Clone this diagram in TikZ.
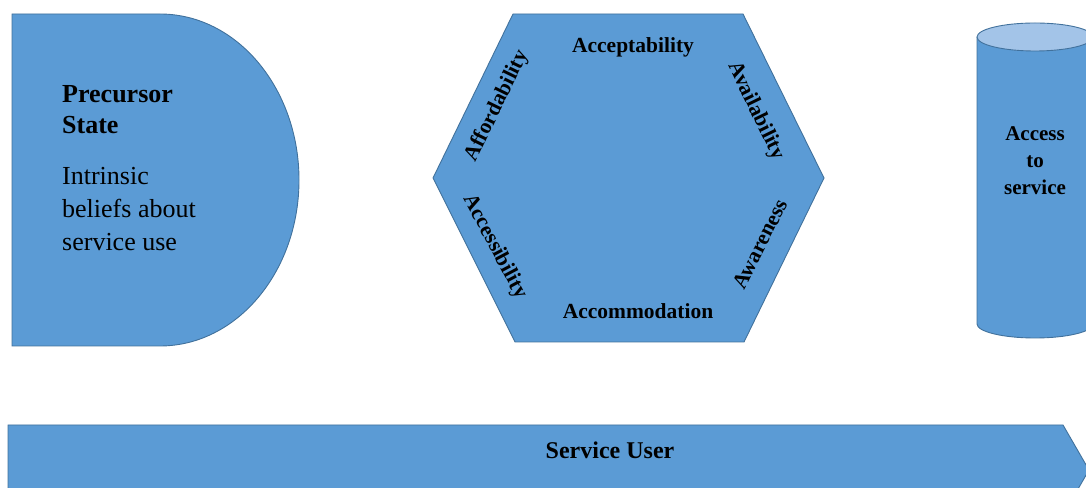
\documentclass[tikz,border=0pt]{standalone}
\usepackage{fontspec}
\setmainfont{Liberation Serif}
\begin{document}
\begin{tikzpicture}[x=1pt,y=1pt,
  shapefill/.style={fill=blueA,draw=blueB,line width=0.9pt},
  lbl/.style={font=\fontsize{21.5}{25}\selectfont\bfseries,inner sep=0pt},
]
\definecolor{blueA}{HTML}{5B9BD5}
\definecolor{blueB}{HTML}{41719C}
\definecolor{blueC}{HTML}{A3C4E8}
\useasboundingbox (0,0) rectangle (1086,487);
\clip (0,0) rectangle (1086,487);

% precursor state: half-rounded block
\draw[shapefill] (12,473) -- (160,473)
  arc[start angle=90,end angle=-90,x radius=139,y radius=166]
  -- (12,141) -- cycle;
\node[anchor=north west,inner sep=0pt,align=left,
      font=\fontsize{26}{31}\selectfont\bfseries] (pre) at (62,402)
  {Precursor\\State};
\node[anchor=north west,inner sep=0pt,align=left,
      font=\fontsize{26}{33}\selectfont] (belief) at (62,320)
  {Intrinsic\\beliefs about\\service use};

% the six dimensions of access
\coordinate (h1) at (513,473);
\coordinate (h2) at (743,473);
\coordinate (h3) at (824,309);
\coordinate (h4) at (744,145);
\coordinate (h5) at (515,145);
\coordinate (h6) at (433,309);
\draw[shapefill] (h1) -- (h2) -- (h3) -- (h4) -- (h5) -- (h6) -- cycle;
\node[lbl] (acc) at (633,440) {Acceptability};
\node[lbl] (avl) at (756,376) [rotate=-64] {Availability};
\node[lbl] (awr) at (760,243) [rotate=63] {Awareness};
\node[lbl] (acm) at (638,176) {Accommodation};
\node[lbl] (acs) at (495,240) [rotate=-62] {Accessibility};
\node[lbl] (aff) at (497,381) [rotate=64] {Affordability};

% access to service: cylinder
\draw[shapefill] (977,450) -- (977,163)
  arc[start angle=180,end angle=360,x radius=58,y radius=14]
  -- (1093,450);
\draw[fill=blueC,draw=blueB,line width=0.9pt] (1035,450) ellipse[x radius=58,y radius=14];
\node[align=center,inner sep=0pt,font=\fontsize{21}{27}\selectfont\bfseries] (svc) at (1035,326)
  {Access\\to\\service};

% service user band
\draw[shapefill] (8,62) -- (1063,62) -- (1089,17) -- (1063,-28) -- (8,-28) -- cycle;
\node[lbl,font=\fontsize{24}{28}\selectfont\bfseries] (usr) at (610,37) {Service User};
\end{tikzpicture}
\end{document}
